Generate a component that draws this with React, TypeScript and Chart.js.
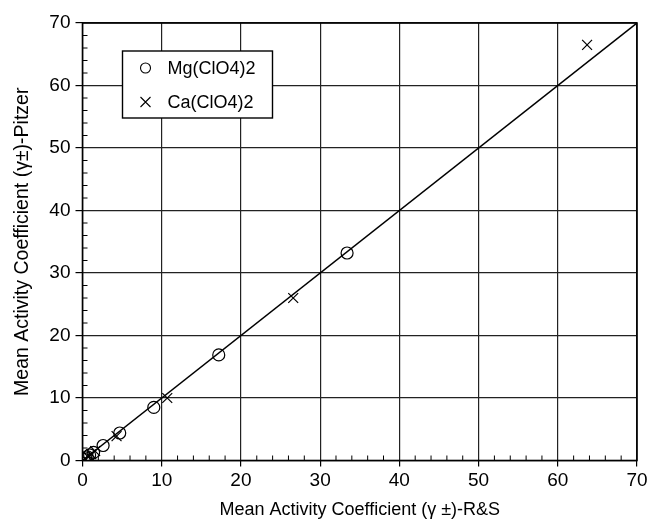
import { useEffect, useRef } from 'react';
import { Chart, registerables } from 'chart.js';
Chart.register(...registerables);

const axisMin = 0;
const axisMax = 70;
const majorStep = 10;
const minorStep = 2;

const seriesNames = ['Mg(ClO4)2', 'Ca(ClO4)2'];
const mgX = [0.2, 0.4, 0.6, 0.9, 1.4, 2.6, 4.7, 9.0, 17.2, 33.4];
const mgY = [0.2, 0.4, 0.6, 0.9, 1.3, 2.4, 4.4, 8.5, 16.9, 33.2];
const caX = [0.3, 0.7, 1.1, 1.6, 4.3, 10.7, 26.6, 63.7];
const caY = [0.3, 0.6, 1.0, 1.5, 3.9, 10.0, 26.0, 66.5];
const lineX = [0, 70];
const lineY = [0, 70];

const xTitle = 'Mean Activity Coefficient (\u03B3 \u00B1)-R&S';
const yTitle = 'Mean Activity Coefficient (\u03B3\u00B1)-Pitzer';

const FONT = "'Liberation Sans', Arial, Helvetica, sans-serif";

const boxAndTicks = {
  id: 'boxAndTicks',
  afterDatasetsDraw(chart: any) {
    const { ctx, chartArea } = chart;
    const xs = chart.scales.x;
    const ys = chart.scales.y;
    ctx.save();
    ctx.strokeStyle = '#000';
    ctx.lineWidth = 1;
    for (let v = axisMin; v <= axisMax; v += minorStep) {
      if (v % majorStep === 0) continue;
      const px = xs.getPixelForValue(v);
      ctx.beginPath();
      ctx.moveTo(px, chartArea.bottom);
      ctx.lineTo(px, chartArea.bottom - 5);
      ctx.stroke();
      const py = ys.getPixelForValue(v);
      ctx.beginPath();
      ctx.moveTo(chartArea.left, py);
      ctx.lineTo(chartArea.left + 5, py);
      ctx.stroke();
    }
    ctx.lineWidth = 1.6;
    ctx.strokeRect(chartArea.left, chartArea.top, chartArea.right - chartArea.left, chartArea.bottom - chartArea.top);
    ctx.restore();
  },
  afterDraw(chart: any) {
    const { ctx, chartArea } = chart;
    const bx = chartArea.left + 40;
    const by = chartArea.top + 28;
    const bw = 150;
    const bh = 67;
    ctx.save();
    ctx.fillStyle = '#fff';
    ctx.fillRect(bx, by, bw, bh);
    ctx.strokeStyle = '#000';
    ctx.lineWidth = 1.4;
    ctx.strokeRect(bx, by, bw, bh);
    ctx.font = `18px ${FONT}`;
    ctx.fillStyle = '#000';
    ctx.textBaseline = 'middle';
    const rows = [by + 17, by + 51];
    chart.data.datasets.slice(0, 2).forEach((ds: any, i: number) => {
      const cx = bx + 23;
      const cy = rows[i];
      ctx.lineWidth = 1.1;
      ctx.beginPath();
      if (i === 0) {
        ctx.arc(cx, cy, 5, 0, Math.PI * 2);
      } else {
        ctx.moveTo(cx - 5, cy - 5);
        ctx.lineTo(cx + 5, cy + 5);
        ctx.moveTo(cx + 5, cy - 5);
        ctx.lineTo(cx - 5, cy + 5);
      }
      ctx.stroke();
      ctx.fillText(ds.label, bx + 45, cy + 1);
    });
    ctx.restore();
  },
};

export default function App() {
  const ref = useRef<HTMLCanvasElement>(null);
  useEffect(() => {
    if (!ref.current) return;
    const chart = new Chart(ref.current, {
      type: 'scatter',
      data: {
        datasets: [
          {
            label: seriesNames[0],
            data: mgX.map((x, i) => ({ x, y: mgY[i] })),
            pointStyle: 'circle',
            pointRadius: 6,
            borderColor: '#000',
            backgroundColor: 'rgba(0,0,0,0)',
            borderWidth: 1.2,
            order: 1,
          },
          {
            label: seriesNames[1],
            data: caX.map((x, i) => ({ x, y: caY[i] })),
            pointStyle: 'crossRot',
            pointRadius: 7,
            borderColor: '#000',
            backgroundColor: '#000',
            borderWidth: 1.2,
            order: 1,
          },
          {
            type: 'line',
            label: '1:1',
            data: lineX.map((x, i) => ({ x, y: lineY[i] })),
            borderColor: '#000',
            borderWidth: 1.5,
            pointRadius: 0,
            showLine: true,
            fill: false,
            order: 2,
          } as any,
        ],
      },
      plugins: [boxAndTicks],
      options: {
        animation: false,
        responsive: false,
        layout: { padding: { left: 0, top: 23, right: 14, bottom: 0 } },
        plugins: { legend: { display: false }, tooltip: { enabled: false } },
        scales: {
          x: {
            type: 'linear',
            min: axisMin,
            max: axisMax,
            afterFit: (s: any) => { s.height = 62.5; },
            ticks: { stepSize: majorStep, color: '#000', font: { family: FONT, size: 19 }, padding: 3, maxRotation: 0 },
            grid: { color: '#222', lineWidth: 1.2, tickLength: 6, tickColor: '#000' },
            border: { display: false },
            title: { display: true, text: xTitle, color: '#000', font: { family: FONT, size: 18 }, padding: { top: 4, bottom: 2.5 } },
          },
          y: {
            type: 'linear',
            min: axisMin,
            max: axisMax,
            afterFit: (s: any) => { s.width = 82.5; },
            ticks: { stepSize: majorStep, color: '#000', font: { family: FONT, size: 19 }, padding: 5 },
            grid: { color: '#222', lineWidth: 1.2, tickLength: 7, tickColor: '#000' },
            border: { display: false },
            title: { display: true, text: yTitle, color: '#000', font: { family: FONT, size: 19.5 }, padding: { top: 11, bottom: 0 } },
          },
        },
      },
    });
    return () => chart.destroy();
  }, []);
  return (
    <div style={{ position: 'fixed', left: 0, top: 0, width: 651, height: 523, background: '#fff' }}>
      <canvas ref={ref} width={651} height={523} style={{ width: 651, height: 523 }} />
    </div>
  );
}
